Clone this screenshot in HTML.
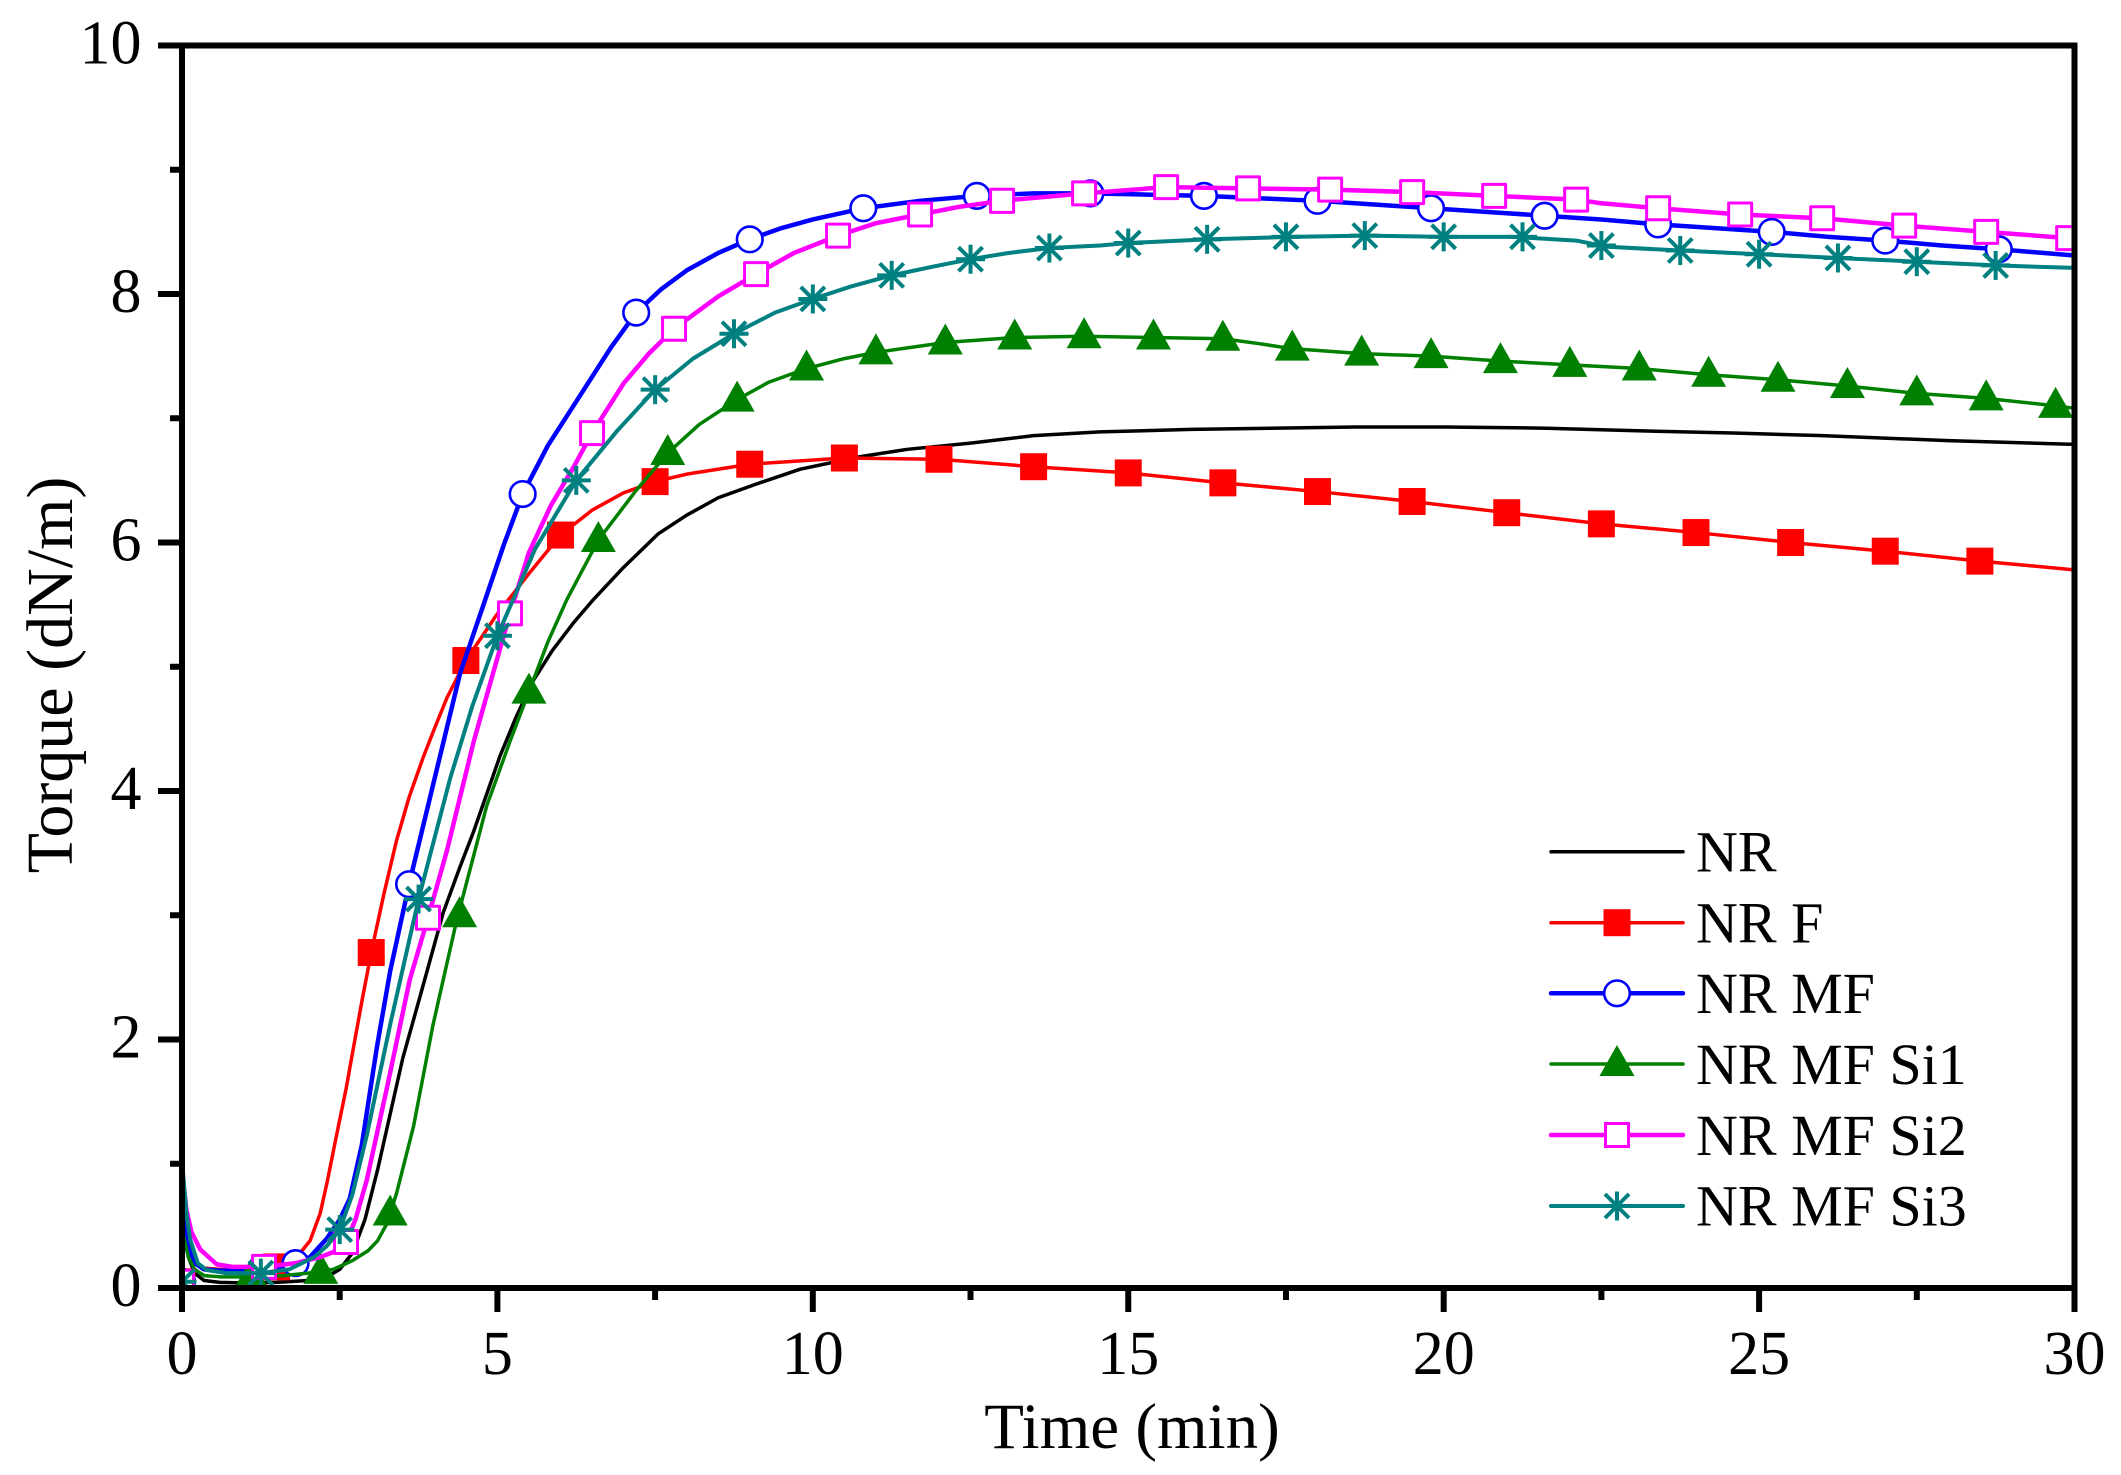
<!DOCTYPE html>
<html>
<head>
<meta charset="utf-8">
<style>
html,body{margin:0;padding:0;background:#fff;}
svg{display:block;}
text{font-family:"Liberation Serif","Times New Roman",serif;fill:#000;}
</style>
</head>
<body>
<svg width="2121" height="1475" viewBox="0 0 2121 1475" xmlns="http://www.w3.org/2000/svg" xmlns:xlink="http://www.w3.org/1999/xlink" font-family="Liberation Serif, serif">
<defs>
  <rect id="p-rsq" x="-13.5" y="-13.5" width="27" height="27" fill="#FF0000"/>
  <circle id="p-bci" cx="0" cy="0" r="12.8" fill="#fff" stroke="#0000FF" stroke-width="2.6"/>
  <polygon id="p-gtr" points="0,-19 17.5,12 -17.5,12" fill="#008000"/>
  <rect id="p-msq" x="-11.5" y="-11.5" width="23" height="23" fill="#fff" stroke="#FF00FF" stroke-width="3"/>
  <g id="p-tas" stroke="#008080" stroke-width="4" stroke-linecap="butt">
    <line x1="0" y1="-14.5" x2="0" y2="14.5"/>
    <line x1="-14.5" y1="0" x2="14.5" y2="0"/>
    <line x1="-12" y1="-12" x2="12" y2="12"/>
    <line x1="-12" y1="12" x2="12" y2="-12"/>
  </g>
  <g id="d-rsq"><g transform="scale(0.015852,-0.0080483)"><use href="#p-rsq"/></g></g>
  <g id="d-bci"><g transform="scale(0.015852,-0.0080483)"><use href="#p-bci"/></g></g>
  <g id="d-gtr"><g transform="scale(0.015852,-0.0080483)"><use href="#p-gtr"/></g></g>
  <g id="d-msq"><g transform="scale(0.015852,-0.0080483)"><use href="#p-msq"/></g></g>
  <g id="d-tas"><g transform="scale(0.015852,-0.0080483)"><use href="#p-tas"/></g></g>
  <clipPath id="plotclip"><rect x="182" y="45" width="1893" height="1243"/></clipPath>
</defs>

<rect x="0" y="0" width="2121" height="1475" fill="#fff"/>

<g clip-path="url(#plotclip)">
<g transform="matrix(63.0833,0,0,-124.25,182,1288)" fill="none" stroke-linejoin="round" stroke-linecap="round">
  <polyline vector-effect="non-scaling-stroke" stroke="#000" stroke-width="3.5" points="0,0.03 0.01,0.55 0.1,0.25 0.2,0.12 0.35,0.06 0.6,0.045 1.0,0.04 1.5,0.045 2.0,0.06 2.3,0.09 2.5,0.15 2.7,0.28 2.9,0.55 3.1,0.95 3.3,1.4 3.5,1.85 3.77,2.34 4.14,3.02 4.4,3.38 4.62,3.67 5.04,4.28 5.3,4.6 5.57,4.89 5.87,5.13 6.2,5.35 6.52,5.54 7.0,5.8 7.55,6.07 8.0,6.22 8.5,6.36 9.1,6.47 9.8,6.59 10.74,6.69 11.5,6.75 12.5,6.8 13.5,6.86 14.55,6.89 16,6.91 18.6,6.93 20,6.93 21.63,6.92 23,6.9 24.66,6.88 26,6.86 28,6.82 30,6.79"/>
  <polyline vector-effect="non-scaling-stroke" stroke="#FF0000" stroke-width="3.5" points="0,0.03 0.01,0.7 0.1,0.35 0.2,0.22 0.35,0.16 0.6,0.15 1.0,0.15 1.5,0.17 1.71,0.21 1.87,0.28 2.03,0.38 2.19,0.6 2.3,0.85 2.45,1.23 2.6,1.6 2.72,1.94 2.86,2.33 3.0,2.7 3.2,3.17 3.4,3.6 3.6,3.95 3.83,4.28 4.0,4.5 4.2,4.75 4.5,5.05 4.99,5.42 5.5,5.75 6.0,6.06 6.5,6.26 7.0,6.4 7.5,6.49 8.0,6.55 9.0,6.63 10.5,6.68 12.0,6.67 13.5,6.61 15.0,6.56 16.5,6.48 18.0,6.41 19.5,6.33 21.0,6.24 22.5,6.15 24.0,6.08 25.5,6.0 27.0,5.93 28.5,5.85 30,5.78"/>
  <g>
    <use href="#d-rsq" x="0" y="0.05"/><use href="#d-rsq" x="1.5" y="0.17"/><use href="#d-rsq" x="3.0" y="2.7"/><use href="#d-rsq" x="4.5" y="5.05"/><use href="#d-rsq" x="6.0" y="6.06"/><use href="#d-rsq" x="7.5" y="6.49"/><use href="#d-rsq" x="9.0" y="6.63"/><use href="#d-rsq" x="10.5" y="6.68"/><use href="#d-rsq" x="12.0" y="6.67"/><use href="#d-rsq" x="13.5" y="6.61"/><use href="#d-rsq" x="15.0" y="6.56"/><use href="#d-rsq" x="16.5" y="6.48"/><use href="#d-rsq" x="18.0" y="6.41"/><use href="#d-rsq" x="19.5" y="6.33"/><use href="#d-rsq" x="21.0" y="6.24"/><use href="#d-rsq" x="22.5" y="6.15"/><use href="#d-rsq" x="24.0" y="6.08"/><use href="#d-rsq" x="25.5" y="6.0"/><use href="#d-rsq" x="27.0" y="5.93"/><use href="#d-rsq" x="28.5" y="5.85"/>
  </g>
  <polyline vector-effect="non-scaling-stroke" stroke="#0000FF" stroke-width="4.5" points="0,0.03 0.01,0.75 0.1,0.35 0.2,0.2 0.35,0.15 0.6,0.14 1.0,0.14 1.5,0.15 1.82,0.2 2.03,0.25 2.3,0.4 2.5,0.55 2.66,0.72 2.85,1.15 3.09,1.94 3.3,2.55 3.6,3.25 3.98,4.05 4.41,4.95 4.78,5.5 5.1,5.98 5.4,6.39 5.8,6.78 6.37,7.23 6.8,7.57 7.2,7.85 7.6,8.04 8.0,8.19 8.5,8.33 9.0,8.44 9.5,8.53 10.0,8.6 10.8,8.69 11.7,8.75 12.6,8.79 13.5,8.81 14.4,8.81 15.3,8.8 16.2,8.79 17.1,8.77 18.0,8.75 18.9,8.72 19.8,8.69 20.7,8.66 21.6,8.63 22.5,8.6 23.4,8.56 24.3,8.53 25.2,8.5 26.1,8.46 27.0,8.43 27.9,8.39 28.8,8.36 30,8.31"/>
  <g>
    <use href="#d-bci" x="0" y="0.05"/><use href="#d-bci" x="1.8" y="0.2"/><use href="#d-bci" x="3.6" y="3.25"/><use href="#d-bci" x="5.4" y="6.39"/><use href="#d-bci" x="7.2" y="7.85"/><use href="#d-bci" x="9.0" y="8.44"/><use href="#d-bci" x="10.8" y="8.69"/><use href="#d-bci" x="12.6" y="8.79"/><use href="#d-bci" x="14.4" y="8.81"/><use href="#d-bci" x="16.2" y="8.79"/><use href="#d-bci" x="18.0" y="8.75"/><use href="#d-bci" x="19.8" y="8.69"/><use href="#d-bci" x="21.6" y="8.63"/><use href="#d-bci" x="23.4" y="8.56"/><use href="#d-bci" x="25.2" y="8.5"/><use href="#d-bci" x="27.0" y="8.43"/><use href="#d-bci" x="28.8" y="8.36"/>
  </g>
  <polyline vector-effect="non-scaling-stroke" stroke="#008000" stroke-width="3.5" points="0,0.03 0.01,0.45 0.1,0.25 0.2,0.15 0.35,0.1 0.6,0.09 1.1,0.09 1.6,0.1 2.0,0.12 2.4,0.15 2.7,0.22 2.95,0.3 3.1,0.38 3.25,0.52 3.4,0.76 3.67,1.3 3.98,2.12 4.35,2.95 4.83,3.88 5.2,4.4 5.5,4.8 5.8,5.2 6.1,5.54 6.6,6.02 7.2,6.42 7.7,6.72 8.2,6.95 8.8,7.15 9.3,7.29 9.9,7.4 10.5,7.48 11.0,7.53 12.1,7.61 13.2,7.65 14.3,7.66 15.4,7.65 16.5,7.64 17.08,7.6 17.6,7.56 18.7,7.52 19.8,7.5 20.9,7.46 22.0,7.43 23.1,7.4 24.2,7.35 25.3,7.31 26.4,7.26 27.5,7.2 28.6,7.16 29.7,7.1 30,7.08"/>
  <g>
    <use href="#d-gtr" x="0" y="0.05"/><use href="#d-gtr" x="1.1" y="0.09"/><use href="#d-gtr" x="2.2" y="0.13"/><use href="#d-gtr" x="3.3" y="0.6"/><use href="#d-gtr" x="4.4" y="3.0"/><use href="#d-gtr" x="5.5" y="4.8"/><use href="#d-gtr" x="6.6" y="6.02"/><use href="#d-gtr" x="7.7" y="6.72"/><use href="#d-gtr" x="8.8" y="7.15"/><use href="#d-gtr" x="9.9" y="7.4"/><use href="#d-gtr" x="11.0" y="7.53"/><use href="#d-gtr" x="12.1" y="7.61"/><use href="#d-gtr" x="13.2" y="7.65"/><use href="#d-gtr" x="14.3" y="7.66"/><use href="#d-gtr" x="15.4" y="7.65"/><use href="#d-gtr" x="16.5" y="7.64"/><use href="#d-gtr" x="17.6" y="7.56"/><use href="#d-gtr" x="18.7" y="7.52"/><use href="#d-gtr" x="19.8" y="7.5"/><use href="#d-gtr" x="20.9" y="7.46"/><use href="#d-gtr" x="22.0" y="7.43"/><use href="#d-gtr" x="23.1" y="7.4"/><use href="#d-gtr" x="24.2" y="7.35"/><use href="#d-gtr" x="25.3" y="7.31"/><use href="#d-gtr" x="26.4" y="7.26"/><use href="#d-gtr" x="27.5" y="7.2"/><use href="#d-gtr" x="28.6" y="7.16"/><use href="#d-gtr" x="29.7" y="7.1"/>
  </g>
  <polyline vector-effect="non-scaling-stroke" stroke="#FF00FF" stroke-width="4.5" points="0,0.03 0.01,0.9 0.07,0.63 0.15,0.45 0.29,0.31 0.55,0.19 0.8,0.17 1.3,0.17 1.8,0.2 2.2,0.25 2.45,0.3 2.61,0.38 2.75,0.55 2.93,0.87 3.24,1.59 3.61,2.48 3.9,2.98 4.2,3.52 4.62,4.39 5.2,5.43 5.5,5.92 5.85,6.3 6.2,6.6 6.5,6.88 7.0,7.28 7.4,7.52 7.8,7.72 8.5,7.98 9.1,8.16 9.7,8.33 10.4,8.47 11.0,8.57 11.7,8.64 12.3,8.7 13.0,8.75 14.3,8.81 15.6,8.86 16.9,8.85 18.2,8.84 19.5,8.82 20.8,8.79 22.1,8.76 22.5,8.73 23.4,8.69 24.7,8.64 26.0,8.61 27.3,8.55 28.6,8.5 29.9,8.45 30,8.44"/>
  <g>
    <use href="#d-msq" x="0" y="0.05"/><use href="#d-msq" x="1.3" y="0.17"/><use href="#d-msq" x="2.6" y="0.37"/><use href="#d-msq" x="3.9" y="2.98"/><use href="#d-msq" x="5.2" y="5.43"/><use href="#d-msq" x="6.5" y="6.88"/><use href="#d-msq" x="7.8" y="7.72"/><use href="#d-msq" x="9.1" y="8.16"/><use href="#d-msq" x="10.4" y="8.47"/><use href="#d-msq" x="11.7" y="8.64"/><use href="#d-msq" x="13.0" y="8.75"/><use href="#d-msq" x="14.3" y="8.81"/><use href="#d-msq" x="15.6" y="8.86"/><use href="#d-msq" x="16.9" y="8.85"/><use href="#d-msq" x="18.2" y="8.84"/><use href="#d-msq" x="19.5" y="8.82"/><use href="#d-msq" x="20.8" y="8.79"/><use href="#d-msq" x="22.1" y="8.76"/><use href="#d-msq" x="23.4" y="8.69"/><use href="#d-msq" x="24.7" y="8.64"/><use href="#d-msq" x="26.0" y="8.61"/><use href="#d-msq" x="27.3" y="8.55"/><use href="#d-msq" x="28.6" y="8.5"/><use href="#d-msq" x="29.9" y="8.45"/>
  </g>
  <polyline vector-effect="non-scaling-stroke" stroke="#008080" stroke-width="4" points="0,0.03 0.01,0.97 0.07,0.6 0.13,0.39 0.25,0.2 0.39,0.145 0.7,0.12 1.25,0.12 1.7,0.15 2.1,0.25 2.3,0.34 2.5,0.47 2.7,0.75 2.93,1.23 3.3,2.12 3.75,3.13 4.25,4.1 4.6,4.68 5.0,5.25 5.6,5.95 6.25,6.5 6.9,6.9 7.5,7.23 8.1,7.48 8.75,7.68 9.4,7.85 10.0,7.96 10.6,8.06 11.25,8.15 11.9,8.22 12.5,8.28 13.1,8.33 13.75,8.37 14.55,8.39 15.0,8.41 16.25,8.44 17.6,8.46 18.75,8.47 20.0,8.46 21.1,8.46 22.1,8.43 22.6,8.38 23.75,8.35 25.0,8.32 26.25,8.29 27.5,8.26 28.75,8.23 30,8.21"/>
  <g>
    <use href="#d-tas" x="0" y="0.05"/><use href="#d-tas" x="1.25" y="0.12"/><use href="#d-tas" x="2.5" y="0.47"/><use href="#d-tas" x="3.75" y="3.13"/><use href="#d-tas" x="5.0" y="5.25"/><use href="#d-tas" x="6.25" y="6.5"/><use href="#d-tas" x="7.5" y="7.23"/><use href="#d-tas" x="8.75" y="7.68"/><use href="#d-tas" x="10.0" y="7.96"/><use href="#d-tas" x="11.25" y="8.15"/><use href="#d-tas" x="12.5" y="8.28"/><use href="#d-tas" x="13.75" y="8.37"/><use href="#d-tas" x="15.0" y="8.41"/><use href="#d-tas" x="16.25" y="8.44"/><use href="#d-tas" x="17.5" y="8.46"/><use href="#d-tas" x="18.75" y="8.47"/><use href="#d-tas" x="20.0" y="8.46"/><use href="#d-tas" x="21.25" y="8.46"/><use href="#d-tas" x="22.5" y="8.39"/><use href="#d-tas" x="23.75" y="8.35"/><use href="#d-tas" x="25.0" y="8.32"/><use href="#d-tas" x="26.25" y="8.29"/><use href="#d-tas" x="27.5" y="8.26"/><use href="#d-tas" x="28.75" y="8.23"/>
  </g>
</g>
</g>

<rect x="182" y="45.5" width="1892.5" height="1242.5" fill="none" stroke="#000" stroke-width="6"/>

<g stroke="#000" stroke-width="6">
  <line x1="158" y1="1288" x2="182" y2="1288"/>
  <line x1="158" y1="1039.5" x2="182" y2="1039.5"/>
  <line x1="158" y1="791" x2="182" y2="791"/>
  <line x1="158" y1="542.5" x2="182" y2="542.5"/>
  <line x1="158" y1="294" x2="182" y2="294"/>
  <line x1="158" y1="45.5" x2="182" y2="45.5"/>
  <line x1="170" y1="1163.75" x2="182" y2="1163.75"/>
  <line x1="170" y1="915.25" x2="182" y2="915.25"/>
  <line x1="170" y1="666.75" x2="182" y2="666.75"/>
  <line x1="170" y1="418.25" x2="182" y2="418.25"/>
  <line x1="170" y1="169.75" x2="182" y2="169.75"/>
</g>
<g stroke="#000" stroke-width="6">
  <line x1="182" y1="1288" x2="182" y2="1312"/>
  <line x1="497.4" y1="1288" x2="497.4" y2="1312"/>
  <line x1="812.8" y1="1288" x2="812.8" y2="1312"/>
  <line x1="1128.25" y1="1288" x2="1128.25" y2="1312"/>
  <line x1="1443.7" y1="1288" x2="1443.7" y2="1312"/>
  <line x1="1759.1" y1="1288" x2="1759.1" y2="1312"/>
  <line x1="2074.5" y1="1288" x2="2074.5" y2="1312"/>
  <line x1="339.7" y1="1288" x2="339.7" y2="1300"/>
  <line x1="655.1" y1="1288" x2="655.1" y2="1300"/>
  <line x1="970.5" y1="1288" x2="970.5" y2="1300"/>
  <line x1="1286" y1="1288" x2="1286" y2="1300"/>
  <line x1="1601.4" y1="1288" x2="1601.4" y2="1300"/>
  <line x1="1916.8" y1="1288" x2="1916.8" y2="1300"/>
</g>

<g font-size="62" text-anchor="end">
  <text x="141.5" y="1306">0</text>
  <text x="141.5" y="1057.5">2</text>
  <text x="141.5" y="809">4</text>
  <text x="141.5" y="560.5">6</text>
  <text x="141.5" y="312">8</text>
  <text x="141.5" y="63.5">10</text>
</g>
<g font-size="62" text-anchor="middle">
  <text x="182" y="1374">0</text>
  <text x="497.4" y="1374">5</text>
  <text x="812.8" y="1374">10</text>
  <text x="1128.25" y="1374">15</text>
  <text x="1443.7" y="1374">20</text>
  <text x="1759.1" y="1374">25</text>
  <text x="2074.5" y="1374">30</text>
</g>

<text x="1132" y="1448" font-size="65" text-anchor="middle">Time (min)</text>
<text transform="translate(72,675) rotate(-90)" x="0" y="0" font-size="66" text-anchor="middle">Torque (dN/m)</text>

<g fill="none" stroke-linecap="round">
  <line x1="1551" y1="851.7" x2="1683" y2="851.7" stroke="#000" stroke-width="3.5"/>
  <line x1="1551" y1="922.7" x2="1683" y2="922.7" stroke="#FF0000" stroke-width="3.5"/>
  <line x1="1551" y1="993.3" x2="1683" y2="993.3" stroke="#0000FF" stroke-width="4.5"/>
  <line x1="1551" y1="1064" x2="1683" y2="1064" stroke="#008000" stroke-width="3.5"/>
  <line x1="1551" y1="1135" x2="1683" y2="1135" stroke="#FF00FF" stroke-width="4.5"/>
  <line x1="1551" y1="1206" x2="1683" y2="1206" stroke="#008080" stroke-width="4"/>
</g>
<use href="#p-rsq" x="1617" y="922.7"/>
<use href="#p-bci" x="1617" y="993.3"/>
<use href="#p-gtr" x="1617" y="1064"/>
<use href="#p-msq" x="1617" y="1135"/>
<use href="#p-tas" x="1617" y="1206"/>
<g font-size="58">
  <text x="1696" y="871.5">NR</text>
  <text x="1696" y="942.5">NR F</text>
  <text x="1696" y="1013">NR MF</text>
  <text x="1696" y="1084">NR MF Si1</text>
  <text x="1696" y="1155">NR MF Si2</text>
  <text x="1696" y="1225.5">NR MF Si3</text>
</g>
</svg>
</body>
</html>
